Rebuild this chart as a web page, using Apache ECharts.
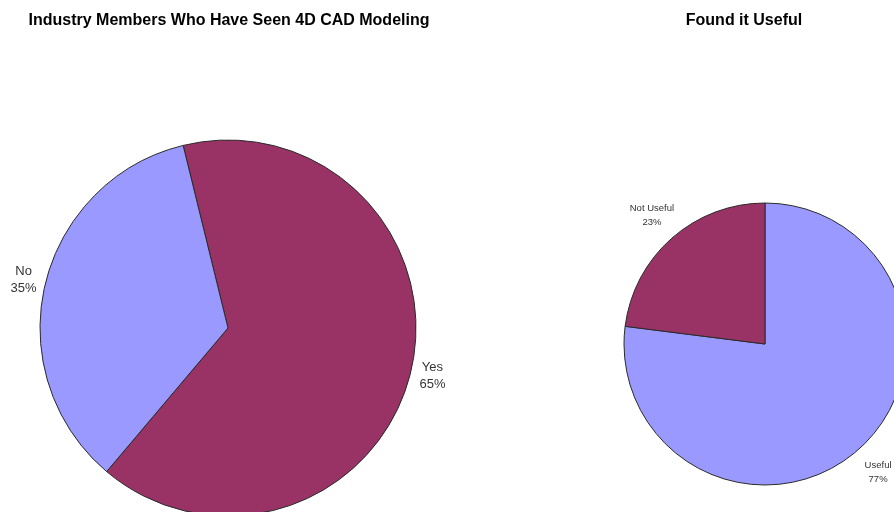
<!DOCTYPE html>
<html>
<head>
<meta charset="utf-8">
<script src="https://cdn.jsdelivr.net/npm/echarts@6/dist/echarts.min.js"></script>
<style>
  html, body { margin: 0; padding: 0; background: #fff; }
  #chart { width: 894px; height: 512px; }
</style>
</head>
<body>
<div id="chart"></div>
<script>
// Survey results: who has seen 4D CAD modeling, and whether it was useful
const seenTitle = 'Industry Members Who Have Seen 4D CAD Modeling';
const seenCategories = ['Yes', 'No'];
const seenValues = [65, 35];

const usefulTitle = 'Found it Useful';
const usefulCategories = ['Useful', 'Not Useful'];
const usefulValues = [77, 23];

const sliceColors = { 'Yes': '#993366', 'No': '#9999FF', 'Useful': '#9999FF', 'Not Useful': '#993366' };

// Pie geometry: center, radius, start angle and how far outside the rim labels sit
const pies = [
  { center: [228, 328], radius: 188, startAngle: 103.8, labelGap: 22, values: seenValues },
  { center: [765, 344], radius: 141, startAngle: 90, labelGap: 30, values: usefulValues }
];

function toData(cats, vals) {
  return cats.map((c, i) => ({ name: c, value: vals[i], itemStyle: { color: sliceColors[c] } }));
}

// Place each label just outside the rim, centred on its slice's mid angle
function labelAt(params) {
  const p = pies[params.seriesIndex];
  const total = p.values.reduce((a, b) => a + b, 0);
  let before = 0;
  for (let i = 0; i < params.dataIndex; i++) before += p.values[i];
  const mid = (p.startAngle - 360 * (before + p.values[params.dataIndex] / 2) / total) * Math.PI / 180;
  const r = p.radius + p.labelGap;
  return {
    x: p.center[0] + Math.cos(mid) * r,
    y: p.center[1] - Math.sin(mid) * r,
    align: 'center',
    verticalAlign: 'middle'
  };
}

const chart = echarts.init(document.getElementById('chart'), null, { renderer: 'canvas' });

const titleStyle = { fontFamily: 'Liberation Sans, Arial, sans-serif', fontSize: 16, fontWeight: 'bold', color: '#000' };

function pieSeries(idx, cats, vals, fontSize, lineHeight) {
  const p = pies[idx];
  return {
    type: 'pie',
    center: p.center,
    radius: p.radius,
    startAngle: p.startAngle,
    clockwise: true,
    silent: true,
    data: toData(cats, vals),
    itemStyle: { borderColor: '#2a2a2a', borderWidth: 1 },
    label: {
      position: 'inside',
      formatter: '{b}\n{d}%',
      fontFamily: 'Liberation Sans, Arial, sans-serif',
      fontSize: fontSize,
      lineHeight: lineHeight,
      color: '#333',
      overflow: 'none'
    },
    labelLine: { show: false },
    labelLayout: labelAt
  };
}

chart.setOption({
  animation: false,
  title: [
    { text: seenTitle, left: 224, top: 8, textAlign: 'center', textStyle: titleStyle },
    { text: usefulTitle, left: 739, top: 8, textAlign: 'center', textStyle: titleStyle }
  ],
  series: [
    pieSeries(0, seenCategories, seenValues, 13, 17),
    pieSeries(1, usefulCategories, usefulValues, 9.5, 14)
  ]
});
</script>
</body>
</html>
